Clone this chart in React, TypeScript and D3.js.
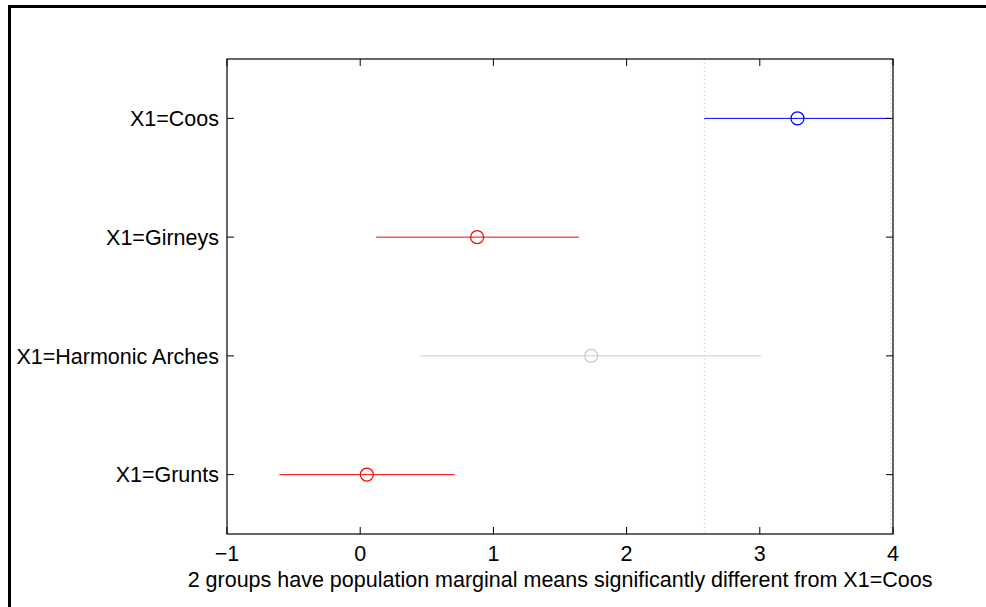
import React from 'react';
import * as d3 from 'd3';

// groups listed top to bottom
const groups = ['X1=Coos', 'X1=Girneys', 'X1=Harmonic Arches', 'X1=Grunts'];
const means = [3.283, 0.878, 1.734, 0.05];
const lower = [2.583, 0.12, 0.453, -0.606];
const upper = [3.983, 1.642, 3.01, 0.709];
const colors = ['#0000ff', '#ff0000', '#cccccc', '#ff0000'];
const xTicks = [-1, 0, 1, 2, 3, 4];
const selected = 0; // X1=Coos
const xLabel = '2 groups have population marginal means significantly different from X1=Coos';

const App = () => {
  const boxWidth = 986;
  const boxHeight = 607;
  const margin = { top: 59, right: 93, bottom: 73, left: 227 };
  const width = boxWidth - margin.left - margin.right;
  const height = boxHeight - margin.top - margin.bottom;

  const x = d3.scaleLinear().domain([-1, 4]).range([0, width]);
  // top group sits at position n, bottom at 1
  const y = d3.scaleLinear().domain([0.5, groups.length + 0.5]).range([height, 0]);
  const yPos = (i) => y(groups.length - i);

  const font = '"Liberation Sans", Arial, sans-serif';
  const fs = 21.5;
  const tickLen = 7;

  return (
    <svg
      width={boxWidth}
      height={boxHeight}
      style={{ position: 'absolute', left: 0, top: 0, background: '#fff' }}
      fontFamily={font}
    >
      {/* figure frame, left and top edges */}
      <path d={`M9.5,${boxHeight} L9.5,6.5 L${boxWidth},6.5`} fill="none" stroke="#000" strokeWidth={3} />

      <g transform={`translate(${margin.left},${margin.top})`}>
        {/* dotted lines at the selected group's interval */}
        {[lower[selected], upper[selected]].map((v, i) => (
          <line key={i} x1={x(v)} x2={x(v)} y1={0} y2={height}
            stroke="#c0c0c0" strokeWidth={1} strokeDasharray="1,3" />
        ))}

        {/* intervals */}
        {groups.map((g, i) => (
          <g key={g}>
            <line x1={x(lower[i])} x2={Math.min(x(upper[i]), width)} y1={yPos(i)} y2={yPos(i)}
              stroke={colors[i]} strokeWidth={1} />
            <circle cx={x(means[i])} cy={yPos(i)} r={6.5} fill="none" stroke={colors[i]} strokeWidth={1.2} />
          </g>
        ))}

        {/* axes box */}
        <rect x={0} y={0} width={width} height={height} fill="none" stroke="#000" strokeWidth={1.2} />

        {/* x ticks, bottom and top */}
        {xTicks.map((t) => (
          <g key={t}>
            <line x1={x(t)} x2={x(t)} y1={height} y2={height - tickLen} stroke="#000" />
            <line x1={x(t)} x2={x(t)} y1={0} y2={tickLen} stroke="#000" />
            <text x={x(t)} y={height + 27} textAnchor="middle" fontSize={fs} fill="#000">
              {t < 0 ? '\u2212' + Math.abs(t) : t}
            </text>
          </g>
        ))}

        {/* y ticks, left and right */}
        {groups.map((g, i) => (
          <g key={g}>
            <line x1={0} x2={tickLen} y1={yPos(i)} y2={yPos(i)} stroke="#000" />
            <line x1={width} x2={width - tickLen} y1={yPos(i)} y2={yPos(i)} stroke="#000" />
            <text x={-8} y={yPos(i)} dy="0.36em" textAnchor="end" fontSize={fs} fill="#000">{g}</text>
          </g>
        ))}

        <text x={width / 2} y={height + 53} textAnchor="middle" fontSize={fs} fill="#000">{xLabel}</text>
      </g>
    </svg>
  );
};

export default App;
